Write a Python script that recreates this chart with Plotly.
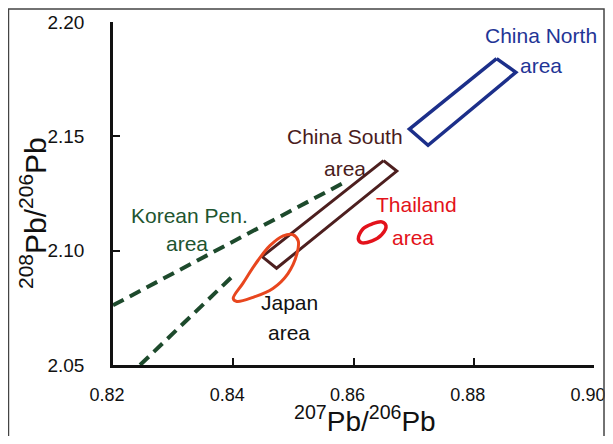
import plotly.graph_objects as go

# ---- data ----
china_north_x = [0.8838, 0.8870, 0.8724, 0.8693, 0.8838]
china_north_y = [2.1840, 2.1780, 2.1461, 2.1532, 2.1840]

china_south_x = [0.8650, 0.8672, 0.8472, 0.8448, 0.8650]
china_south_y = [2.1394, 2.1348, 2.0923, 2.0974, 2.1394]

korean_upper_x = [0.8200, 0.8583]
korean_upper_y = [2.0761, 2.1296]
korean_lower_x = [0.8245, 0.8400]
korean_lower_y = [2.0500, 2.0891]

japan_x = [0.8400, 0.8416, 0.8441, 0.8461, 0.8483, 0.8499, 0.8508, 0.8506,
           0.8491, 0.8466, 0.8433, 0.8406, 0.8400]
japan_y = [2.0791, 2.0857, 2.0957, 2.1022, 2.1065, 2.1070, 2.1043, 2.0987,
           2.0900, 2.0835, 2.0796, 2.0778, 2.0791]

thailand_x = [0.8608, 0.8616, 0.8631, 0.8647, 0.8654, 0.8647, 0.8631, 0.8613, 0.8608]
thailand_y = [2.1052, 2.1096, 2.1117, 2.1126, 2.1109, 2.1070, 2.1043, 2.1035, 2.1052]

label_text = ["China North", "area", "China South", "area", "Korean Pen.", "area",
              "Thailand", "area", "Japan", "area"]
label_x = [0.8912, 0.8912, 0.8586, 0.8586, 0.8328, 0.8323, 0.8704, 0.8699, 0.8493, 0.8493]
label_y = [2.1943, 2.1809, 2.1500, 2.1361, 2.1152, 2.1030, 2.1200, 2.1057, 2.0774, 2.0643]
label_color = ["#1f3596", "#1f3596", "#4a1c1c", "#4a1c1c", "#1e5530", "#1e5530",
               "#e3121b", "#e3121b", "#111111", "#111111"]

x_ticks = [0.82, 0.84, 0.86, 0.88, 0.90]
y_ticks = [2.05, 2.10, 2.15, 2.20]

# ---- figure ----
fig = go.Figure()

fig.add_trace(go.Scatter(x=china_north_x, y=china_north_y, mode="lines",
                         line=dict(color="#1c2f8a", width=3.5), hoverinfo="skip"))
fig.add_trace(go.Scatter(x=china_south_x, y=china_south_y, mode="lines",
                         line=dict(color="#4d1f1f", width=3), hoverinfo="skip"))
fig.add_trace(go.Scatter(x=korean_upper_x, y=korean_upper_y, mode="lines",
                         line=dict(color="#1d4a2c", width=4, dash="12px,7px"), hoverinfo="skip"))
fig.add_trace(go.Scatter(x=korean_lower_x, y=korean_lower_y, mode="lines",
                         line=dict(color="#1d4a2c", width=4, dash="12px,7px"), hoverinfo="skip"))
fig.add_trace(go.Scatter(x=japan_x, y=japan_y, mode="lines",
                         line=dict(color="#e8461e", width=3, shape="spline", smoothing=1.0),
                         hoverinfo="skip"))
fig.add_trace(go.Scatter(x=thailand_x, y=thailand_y, mode="lines",
                         line=dict(color="#e3121b", width=3.5, shape="spline", smoothing=1.0),
                         hoverinfo="skip"))

annotations = []
for t, x, y, c in zip(label_text, label_x, label_y, label_color):
    annotations.append(dict(x=x, y=y, xref="x", yref="y", text=t, showarrow=False,
                            font=dict(family="Liberation Sans, Arial", size=21, color=c),
                            xanchor="center", yanchor="middle"))

# axis titles
annotations.append(dict(x=0.5239, y=-0.1574, xref="paper", yref="paper",
                        text="<sup>207</sup>Pb/<sup>206</sup>Pb", showarrow=False,
                        font=dict(family="Liberation Sans, Arial", size=28, color="#111111"),
                        xanchor="center", yanchor="middle"))
annotations.append(dict(x=-0.1663, y=0.4431, xref="paper", yref="paper",
                        text="<sup>208</sup>Pb/<sup>206</sup>Pb", showarrow=False, textangle=-90,
                        font=dict(family="Liberation Sans, Arial", size=30, color="#111111"),
                        xanchor="center", yanchor="middle"))

fig.update_layout(
    width=597, height=428,
    margin=dict(l=105, r=11, t=14, b=71),
    paper_bgcolor="white", plot_bgcolor="white",
    showlegend=False,
    annotations=annotations,
    shapes=[dict(type="path", xref="paper", yref="paper",
                 path="M -0.2173,-0.3 L -0.2173,1.0379 L 1.0208,1.0379 L 1.0208,-0.3",
                 line=dict(color="#444444", width=1.5))],
    font=dict(family="Liberation Sans, Arial", color="#111111"),
)

fig.update_xaxes(range=[0.82, 0.90], tickvals=x_ticks, tickformat=".2f", automargin=False,
                 showgrid=False, zeroline=False, showline=True, linecolor="#111111", linewidth=2.5,
                 ticks="inside", ticklen=7, tickwidth=2, tickcolor="#111111",
                 tickfont=dict(size=18), ticklabelstandoff=12, ticklabelshift=-6,
                 ticklabeloverflow="allow")
fig.update_yaxes(range=[2.05, 2.20], tickvals=y_ticks, tickformat=".2f", automargin=False,
                 showgrid=False, zeroline=False, showline=True, linecolor="#111111", linewidth=2.5,
                 ticks="inside", ticklen=7, tickwidth=2, tickcolor="#111111",
                 tickfont=dict(size=19), ticklabelstandoff=22, ticklabeloverflow="allow")

fig.write_html("out.html")
